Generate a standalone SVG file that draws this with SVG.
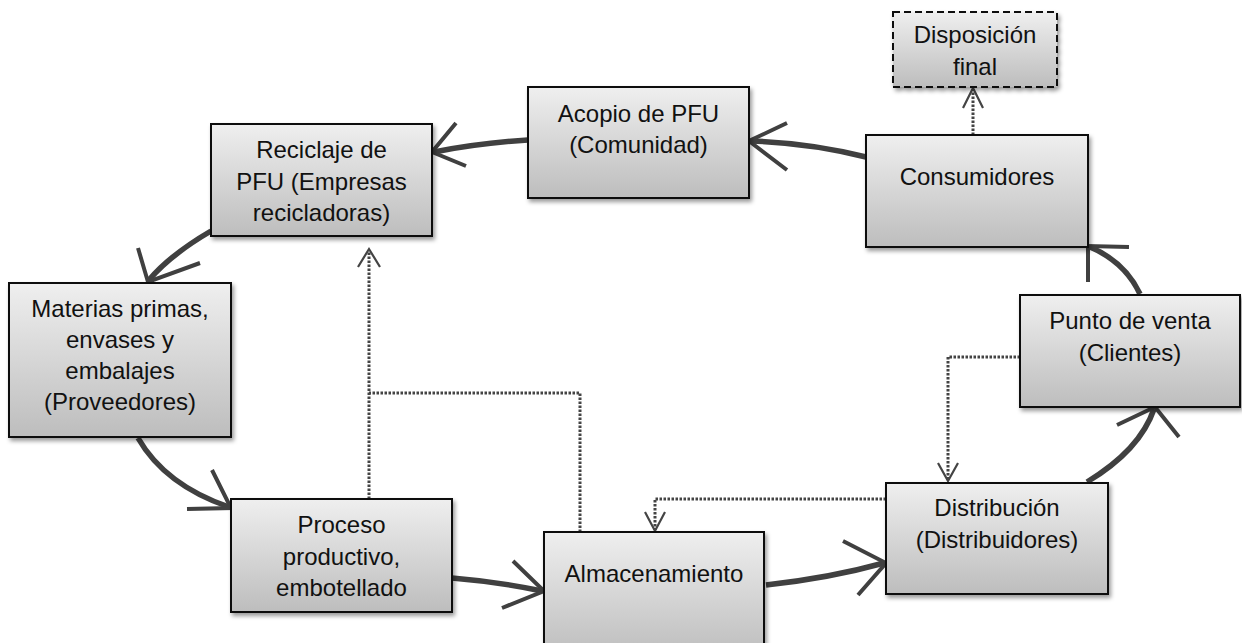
<svg xmlns="http://www.w3.org/2000/svg" width="1242" height="643" viewBox="0 0 1242 643">
  <defs>
    <linearGradient id="boxFill" x1="0" y1="0" x2="0" y2="1">
      <stop offset="0" stop-color="#efefef"/>
      <stop offset="1" stop-color="#bdbdbd"/>
    </linearGradient>
    <filter id="shadow" x="-10%" y="-10%" width="125%" height="130%">
      <feDropShadow dx="2" dy="3" stdDeviation="2.2" flood-color="#000" flood-opacity="0.4"/>
    </filter>
  </defs>
  <style>
    .box { fill: url(#boxFill); stroke: #111; stroke-width: 2; filter: url(#shadow); }
    .dashed { stroke-dasharray: 7 4; }
    .label { font-family: "Liberation Sans", Arial, sans-serif; font-size: 24px; fill: #111; text-anchor: middle; }
    .flow { fill: none; stroke: #404040; stroke-width: 5.5; stroke-linecap: butt; }
    .head { fill: none; stroke: #404040; stroke-width: 4; stroke-linejoin: miter; }
    .dot { fill: none; stroke: #444; stroke-width: 3; stroke-dasharray: 2.5 1.5; }
    .dothead { fill: none; stroke: #444; stroke-width: 2.2; }
  </style>

  <rect width="1242" height="643" fill="#fff"/>

  <!-- connectors -->
  <g id="connectors">
    <!-- main cycle -->
    <path class="flow" d="M866,157 Q810,143 751,141"/>
    <polyline class="head" points="787,123 749,141 787,170"/>

    <path class="flow" d="M528,140 Q480,143 434,152"/>
    <polyline class="head" points="456,123 432,152 466,166"/>

    <path class="flow" d="M211,231 Q170,255 149,280"/>
    <polyline class="head" points="138,248 148,282 200,263"/>

    <path class="flow" d="M138,438 Q165,485 229,507"/>
    <polyline class="head" points="212,470 231,508 187,509"/>

    <path class="flow" d="M452,578 Q500,582 542,591"/>
    <polyline class="head" points="513,561 544,591 502,608"/>

    <path class="flow" d="M766,585 Q830,578 884,563"/>
    <polyline class="head" points="843,541 886,563 858,595"/>

    <path class="flow" d="M1087,482 Q1140,450 1154,409"/>
    <polyline class="head" points="1117,425 1155,407 1179,437"/>

    <path class="flow" d="M1140,294 Q1125,262 1090,247"/>
    <polyline class="head" points="1129,247 1088,246 1088,282"/>

    <!-- information flows -->
    <path class="dot" d="M973,135 V89"/>
    <polyline class="dothead" points="963,108 973,88 983,108"/>

    <path class="dot" d="M369,499 V250"/>
    <path class="dot" d="M580,532 V393 H369"/>
    <polyline class="dothead" points="358,267 369,249 380,267"/>

    <path class="dot" d="M1020,357 H948 V480"/>
    <polyline class="dothead" points="938,463 948,481 958,463"/>

    <path class="dot" d="M886,499 H655 V530"/>
    <polyline class="dothead" points="645,512 655,531 665,512"/>
  </g>

  <g id="disposicion">
    <rect class="box dashed" x="893" y="12" width="164" height="75"/>
    <text class="label" x="975" y="43">Disposición</text>
    <text class="label" x="975" y="75">final</text>
  </g>

  <g id="acopio">
    <rect class="box" x="528" y="87" width="221" height="111"/>
    <text class="label" x="638.5" y="122">Acopio de PFU</text>
    <text class="label" x="638.5" y="153">(Comunidad)</text>
  </g>

  <g id="reciclaje">
    <rect class="box" x="211" y="124" width="221" height="112"/>
    <text class="label" x="321.5" y="158">Reciclaje de</text>
    <text class="label" x="321.5" y="190">PFU (Empresas</text>
    <text class="label" x="321.5" y="221">recicladoras)</text>
  </g>

  <g id="consumidores">
    <rect class="box" x="866" y="135" width="222" height="112"/>
    <text class="label" x="977" y="185">Consumidores</text>
  </g>

  <g id="materias">
    <rect class="box" x="9" y="283" width="222" height="154"/>
    <text class="label" x="120" y="317">Materias primas,</text>
    <text class="label" x="120" y="348">envases y</text>
    <text class="label" x="120" y="379">embalajes</text>
    <text class="label" x="120" y="410">(Proveedores)</text>
  </g>

  <g id="proceso">
    <rect class="box" x="231" y="499" width="221" height="113"/>
    <text class="label" x="341.5" y="533">Proceso</text>
    <text class="label" x="341.5" y="565">productivo,</text>
    <text class="label" x="341.5" y="596">embotellado</text>
  </g>

  <g id="almacenamiento">
    <rect class="box" x="544" y="532" width="220" height="125"/>
    <text class="label" x="654" y="582">Almacenamiento</text>
  </g>

  <g id="distribucion">
    <rect class="box" x="886" y="483" width="222" height="111"/>
    <text class="label" x="997" y="516">Distribución</text>
    <text class="label" x="997" y="548">(Distribuidores)</text>
  </g>

  <g id="punto-venta">
    <rect class="box" x="1020" y="295" width="220" height="112"/>
    <text class="label" x="1130" y="329">Punto de venta</text>
    <text class="label" x="1130" y="361">(Clientes)</text>
  </g>
</svg>
